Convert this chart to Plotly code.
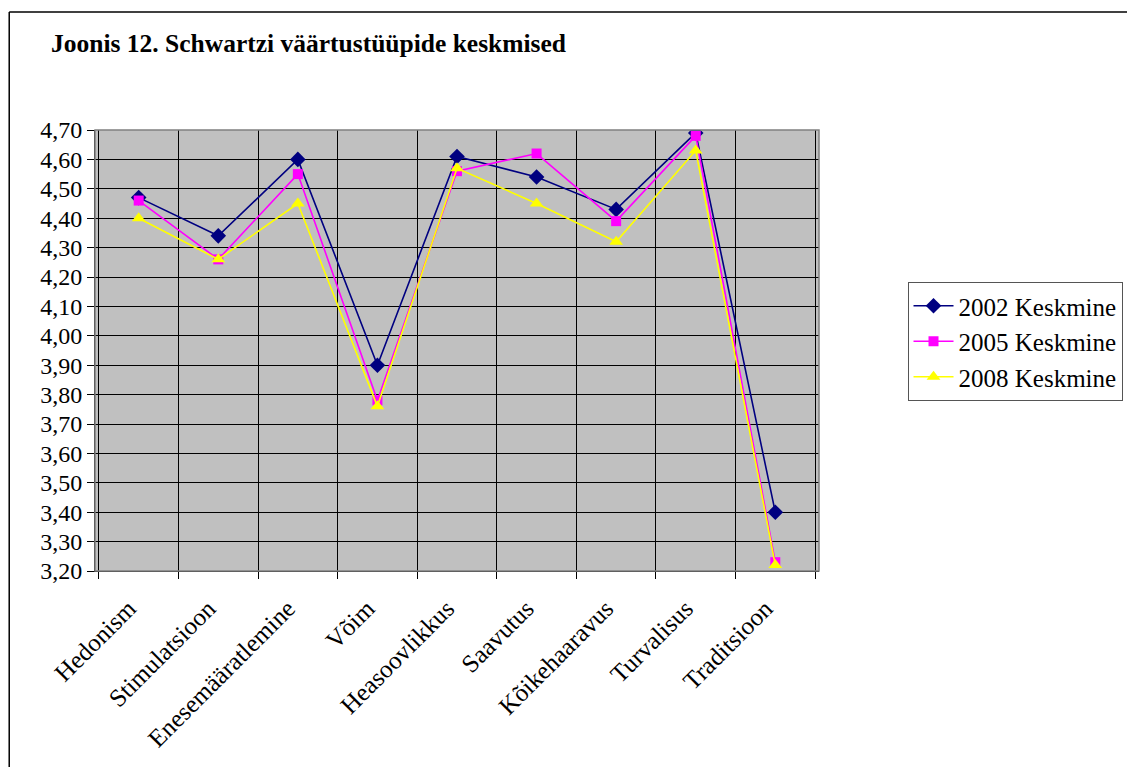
import plotly.graph_objects as go

categories = ["Hedonism", "Stimulatsioon", "Enesemääratlemine", "Võim", "Heasoovlikkus",
              "Saavutus", "Kõikehaaravus", "Turvalisus", "Traditsioon"]
s2002 = [4.47, 4.34, 4.60, 3.90, 4.61, 4.54, 4.43, 4.69, 3.40]
s2005 = [4.46, 4.26, 4.55, 3.78, 4.56, 4.62, 4.39, 4.68, 3.23]
s2008 = [4.40, 4.26, 4.45, 3.76, 4.57, 4.45, 4.32, 4.63, 3.22]
names = ["2002 Keskmine", "2005 Keskmine", "2008 Keskmine"]

FONT = "Liberation Serif, Times New Roman, serif"

fig = go.Figure()
styles = [("#000080", "diamond", 12), ("#FF00FF", "square", 10), ("#FFFF00", "triangle-up", 12)]
for vals, name, (col, sym, sz) in zip([s2002, s2005, s2008], names, styles):
    fig.add_trace(go.Scatter(x=categories, y=vals, name=name, mode="lines+markers",
                             line=dict(color=col, width=1.6),
                             marker=dict(color=col, symbol=sym, size=sz)))

OFF = 8  # page body margin
W, H = 1135 - OFF, 767 - OFF
L, R, T, B = 95 - OFF, 823 - OFF, 130 - OFF, 571 - OFF


def px(xr):
    return (xr - OFF - L) / (R - L)


def py(yr):
    return (B - (yr - OFF)) / (B - T)


fig.update_layout(
    width=W, height=H,
    margin=dict(l=L, r=W - R, t=T, b=H - B),
    paper_bgcolor="white", plot_bgcolor="#C0C0C0",
    separators=", ",
    font=dict(family=FONT, size=24, color="black"),
    showlegend=True,
    legend=dict(x=px(912), y=py(282), xanchor="left", yanchor="top",
                bgcolor="white", bordercolor="#555555", borderwidth=1,
                font=dict(family=FONT, size=25), tracegroupgap=0, itemwidth=40),
    xaxis=dict(type="category", tickson="boundaries", showgrid=True, gridcolor="black",
               gridwidth=1, ticks="outside", ticklen=7, tickcolor="black",
               showline=True, linecolor="black", linewidth=1, tickangle=-45,
               ticklabelstandoff=12, ticklabelshift=-10,
               mirror=False, tickfont=dict(family=FONT, size=25)),
    yaxis=dict(range=[3.2, 4.7], dtick=0.1, tick0=3.2, tickformat=".2f",
               showgrid=True, gridcolor="black", gridwidth=1, zeroline=False,
               ticks="outside", ticklen=7, tickcolor="black",
               showline=True, linecolor="black", linewidth=1,
               tickfont=dict(family=FONT, size=24)),
    annotations=[dict(text="<b>Joonis 12. Schwartzi väärtustüüpide keskmised</b>",
                      xref="paper", yref="paper",
                      x=px(49), y=py(44),
                      xanchor="left", yanchor="middle", showarrow=False,
                      font=dict(family=FONT, size=25.5, color="black"))],
    shapes=[
        dict(type="line", xref="paper", yref="paper",
             x0=(0.75 - L) / (R - L), x1=(W - L) / (R - L), y0=py(12), y1=py(12),
             line=dict(color="black", width=1.5), layer="below"),
        dict(type="line", xref="paper", yref="paper",
             x0=(0.75 - L) / (R - L), x1=(0.75 - L) / (R - L), y0=py(12), y1=-H / (B - T),
             line=dict(color="black", width=1.5), layer="below"),
        dict(type="rect", xref="paper", yref="paper", x0=0, x1=1, y0=0, y1=1,
             line=dict(color="#808080", width=1.5), fillcolor="rgba(0,0,0,0)", layer="above"),
    ],
)

fig.write_html("out.html")
